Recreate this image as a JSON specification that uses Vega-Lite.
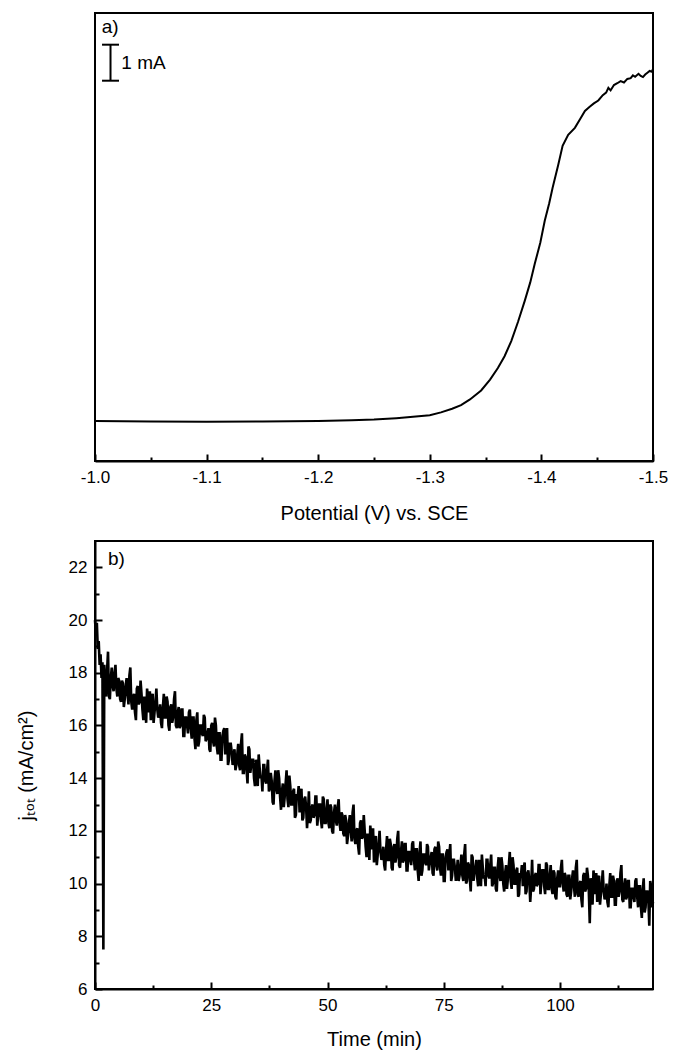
{
"$schema":"https://vega.github.io/schema/vega-lite/v6.json",
"background":"white",
"padding":{"left":15,"top":12,"right":4,"bottom":4},
"datasets":{
"lsv":[{"E":-1.0,"I":0},{"E":-1.05,"I":-0.01},{"E":-1.1,"I":-0.02},{"E":-1.15,"I":-0.01},{"E":-1.2,"I":0.0},{"E":-1.23,"I":0.02},{"E":-1.25,"I":0.04},{"E":-1.27,"I":0.08},{"E":-1.285,"I":0.12},{"E":-1.3,"I":0.16},{"E":-1.31,"I":0.24},{"E":-1.32,"I":0.34},{"E":-1.328,"I":0.44},{"E":-1.336,"I":0.6},{"E":-1.346,"I":0.85},{"E":-1.354,"I":1.15},{"E":-1.361,"I":1.47},{"E":-1.367,"I":1.8},{"E":-1.373,"I":2.22},{"E":-1.379,"I":2.75},{"E":-1.385,"I":3.33},{"E":-1.39,"I":3.85},{"E":-1.394,"I":4.36},{"E":-1.399,"I":4.95},{"E":-1.403,"I":5.56},{"E":-1.407,"I":6.05},{"E":-1.41,"I":6.47},{"E":-1.415,"I":7.1},{"E":-1.419,"I":7.64},{"E":-1.424,"I":7.95},{"E":-1.43,"I":8.14},{"E":-1.435,"I":8.4},{"E":-1.439,"I":8.61},{"E":-1.443,"I":8.72},{"E":-1.447,"I":8.82},{"E":-1.451,"I":8.9},{"E":-1.455,"I":9.05},{"E":-1.458,"I":9.12},{"E":-1.46,"I":9.25},{"E":-1.462,"I":9.18},{"E":-1.465,"I":9.33},{"E":-1.468,"I":9.38},{"E":-1.471,"I":9.44},{"E":-1.474,"I":9.4},{"E":-1.477,"I":9.5},{"E":-1.48,"I":9.52},{"E":-1.482,"I":9.6},{"E":-1.484,"I":9.56},{"E":-1.487,"I":9.64},{"E":-1.489,"I":9.58},{"E":-1.491,"I":9.55},{"E":-1.493,"I":9.62},{"E":-1.495,"I":9.67},{"E":-1.497,"I":9.72},{"E":-1.499,"I":9.7},{"E":-1.5,"I":9.78}],
"ca":[{"t":0,"j":20.0},{"t":0.2,"j":19.5},{"t":0.4,"j":19.9},{"t":0.6,"j":18.9},{"t":0.8,"j":19.2},{"t":1.0,"j":18.3},{"t":1.2,"j":18.7},{"t":1.4,"j":17.8},{"t":1.6,"j":18.4},{"t":1.8,"j":7.5},
{"t":2.0,"j":18.3},{"t":2.4,"j":17.1},{"t":2.8,"j":18.8},{"t":3.2,"j":17.0},{"t":3.6,"j":18.2},
{"t":4.0,"j":17.3},{"t":4.4,"j":18.3},{"t":4.8,"j":17.1},{"t":5.2,"j":17.7},{"t":5.6,"j":16.9},
{"t":6.0,"j":17.6},{"t":6.4,"j":17.0},{"t":6.8,"j":17.8},{"t":7.2,"j":16.8},{"t":7.6,"j":18.2},
{"t":8.0,"j":16.6},{"t":8.4,"j":17.2},{"t":8.8,"j":16.2},{"t":9.2,"j":17.5},{"t":9.6,"j":16.9},
{"t":10.0,"j":17.2},{"t":10.4,"j":16.2},{"t":10.8,"j":16.9},{"t":11.2,"j":17.4},{"t":11.6,"j":16.5},
{"t":12.0,"j":16.2},{"t":12.4,"j":17.2},{"t":12.8,"j":16.5},{"t":13.2,"j":17.4},{"t":13.6,"j":16.3},
{"t":14.0,"j":16.8},{"t":14.4,"j":15.9},{"t":14.8,"j":17.2},{"t":15.2,"j":16.3},{"t":15.6,"j":16.9},
{"t":16.0,"j":15.8},{"t":16.4,"j":16.8},{"t":16.8,"j":16.3},{"t":17.2,"j":17.3},{"t":17.6,"j":15.9},
{"t":18.0,"j":16.7},{"t":18.4,"j":16.0},{"t":18.8,"j":16.6},{"t":19.2,"j":15.6},{"t":19.6,"j":16.3},
{"t":20.0,"j":15.7},{"t":20.4,"j":16.6},{"t":20.8,"j":15.5},{"t":21.2,"j":16.3},{"t":21.6,"j":15.1},
{"t":22.0,"j":16.5},{"t":22.4,"j":15.4},{"t":22.8,"j":16.0},{"t":23.2,"j":15.6},{"t":23.6,"j":16.3},
{"t":24.0,"j":15.5},{"t":24.4,"j":15.9},{"t":24.8,"j":15.0},{"t":25.2,"j":16.1},{"t":25.6,"j":15.2},
{"t":26.0,"j":16.0},{"t":26.4,"j":14.9},{"t":26.8,"j":15.7},{"t":27.2,"j":14.7},{"t":27.6,"j":15.8},
{"t":28.0,"j":14.9},{"t":28.4,"j":15.9},{"t":28.8,"j":14.7},{"t":29.2,"j":15.3},{"t":29.6,"j":14.5},
{"t":30.0,"j":15.1},{"t":30.4,"j":14.5},{"t":30.8,"j":15.3},{"t":31.2,"j":14.3},{"t":31.6,"j":15.7},
{"t":32.0,"j":14.2},{"t":32.4,"j":14.8},{"t":32.8,"j":13.8},{"t":33.2,"j":15.1},{"t":33.6,"j":14.5},
{"t":34.0,"j":14.7},{"t":34.4,"j":13.7},{"t":34.8,"j":14.4},{"t":35.2,"j":14.9},{"t":35.6,"j":14.0},
{"t":36.0,"j":13.5},{"t":36.4,"j":14.5},{"t":36.8,"j":13.8},{"t":37.2,"j":14.7},{"t":37.6,"j":13.6},
{"t":38.0,"j":13.9},{"t":38.4,"j":13.0},{"t":38.8,"j":14.3},{"t":39.2,"j":13.4},{"t":39.6,"j":14.0},
{"t":40.0,"j":12.8},{"t":40.4,"j":13.8},{"t":40.8,"j":13.3},{"t":41.2,"j":14.3},{"t":41.6,"j":12.9},
{"t":42.0,"j":13.7},{"t":42.4,"j":13.0},{"t":42.8,"j":13.6},{"t":43.2,"j":12.6},{"t":43.6,"j":13.3},
{"t":44.0,"j":12.7},{"t":44.4,"j":13.6},{"t":44.8,"j":12.5},{"t":45.2,"j":13.3},{"t":45.6,"j":12.1},
{"t":46.0,"j":13.5},{"t":46.4,"j":12.4},{"t":46.8,"j":13.0},{"t":47.2,"j":12.6},{"t":47.6,"j":13.3},
{"t":48.0,"j":12.6},{"t":48.4,"j":13.0},{"t":48.8,"j":12.1},{"t":49.2,"j":13.2},{"t":49.6,"j":12.3},
{"t":50.0,"j":13.2},{"t":50.4,"j":12.1},{"t":50.8,"j":12.9},{"t":51.2,"j":11.9},{"t":51.6,"j":13.0},
{"t":52.0,"j":12.2},{"t":52.4,"j":13.2},{"t":52.8,"j":12.0},{"t":53.2,"j":12.6},{"t":53.6,"j":11.8},
{"t":54.0,"j":12.4},{"t":54.4,"j":11.8},{"t":54.8,"j":12.6},{"t":55.2,"j":11.6},{"t":55.6,"j":13.0},
{"t":56.0,"j":11.5},{"t":56.4,"j":12.1},{"t":56.8,"j":11.1},{"t":57.2,"j":12.4},{"t":57.6,"j":11.8},
{"t":58.0,"j":12.0},{"t":58.4,"j":11.0},{"t":58.8,"j":11.7},{"t":59.2,"j":12.2},{"t":59.6,"j":11.3},
{"t":60.0,"j":10.8},{"t":60.4,"j":11.8},{"t":60.8,"j":11.1},{"t":61.2,"j":12.0},{"t":61.6,"j":10.9},
{"t":62.0,"j":11.4},{"t":62.4,"j":10.5},{"t":62.8,"j":11.8},{"t":63.2,"j":10.9},{"t":63.6,"j":11.5},
{"t":64.0,"j":10.5},{"t":64.4,"j":11.5},{"t":64.8,"j":11.0},{"t":65.2,"j":12.0},{"t":65.6,"j":10.6},
{"t":66.0,"j":11.6},{"t":66.4,"j":10.9},{"t":66.8,"j":11.5},{"t":67.2,"j":10.5},{"t":67.6,"j":11.2},
{"t":68.0,"j":10.7},{"t":68.4,"j":11.6},{"t":68.8,"j":10.5},{"t":69.2,"j":11.3},{"t":69.6,"j":10.1},
{"t":70.0,"j":11.6},{"t":70.4,"j":10.5},{"t":70.8,"j":11.1},{"t":71.2,"j":10.7},{"t":71.6,"j":11.4},
{"t":72.0,"j":10.8},{"t":72.4,"j":11.2},{"t":72.8,"j":10.3},{"t":73.2,"j":11.4},{"t":73.6,"j":10.5},
{"t":74.0,"j":11.4},{"t":74.4,"j":10.3},{"t":74.8,"j":11.1},{"t":75.2,"j":10.1},{"t":75.6,"j":11.2},
{"t":76.0,"j":10.5},{"t":76.4,"j":11.5},{"t":76.8,"j":10.3},{"t":77.2,"j":10.9},{"t":77.6,"j":10.1},
{"t":78.0,"j":10.9},{"t":78.4,"j":10.3},{"t":78.8,"j":11.1},{"t":79.2,"j":10.1},{"t":79.6,"j":11.5},
{"t":80.0,"j":10.1},{"t":80.4,"j":10.7},{"t":80.8,"j":9.7},{"t":81.2,"j":11.0},{"t":81.6,"j":10.4},
{"t":82.0,"j":10.9},{"t":82.4,"j":9.9},{"t":82.8,"j":10.6},{"t":83.2,"j":11.1},{"t":83.6,"j":10.2},
{"t":84.0,"j":9.9},{"t":84.4,"j":10.9},{"t":84.8,"j":10.2},{"t":85.2,"j":11.1},{"t":85.6,"j":10.0},
{"t":86.0,"j":10.6},{"t":86.4,"j":9.7},{"t":86.8,"j":11.0},{"t":87.2,"j":10.1},{"t":87.6,"j":10.7},
{"t":88.0,"j":9.7},{"t":88.4,"j":10.7},{"t":88.8,"j":10.2},{"t":89.2,"j":11.2},{"t":89.6,"j":9.8},
{"t":90.0,"j":10.7},{"t":90.4,"j":10.0},{"t":90.8,"j":10.6},{"t":91.2,"j":9.6},{"t":91.6,"j":10.3},
{"t":92.0,"j":9.9},{"t":92.4,"j":10.8},{"t":92.8,"j":9.7},{"t":93.2,"j":10.5},{"t":93.6,"j":9.3},
{"t":94.0,"j":10.9},{"t":94.4,"j":9.8},{"t":94.8,"j":10.4},{"t":95.2,"j":10.0},{"t":95.6,"j":10.7},
{"t":96.0,"j":10.1},{"t":96.4,"j":10.5},{"t":96.8,"j":9.6},{"t":97.2,"j":10.7},{"t":97.6,"j":9.8},
{"t":98.0,"j":10.7},{"t":98.4,"j":9.6},{"t":98.8,"j":10.4},{"t":99.2,"j":9.4},{"t":99.6,"j":10.5},
{"t":100.0,"j":9.9},{"t":100.4,"j":10.9},{"t":100.8,"j":9.7},{"t":101.2,"j":10.3},{"t":101.6,"j":9.5},
{"t":102.0,"j":10.3},{"t":102.4,"j":9.7},{"t":102.8,"j":10.5},{"t":103.2,"j":9.5},{"t":103.6,"j":10.9},
{"t":104.0,"j":9.5},{"t":104.4,"j":10.1},{"t":104.8,"j":9.1},{"t":105.2,"j":10.4},{"t":105.6,"j":9.8},
{"t":106.0,"j":10.3},{"t":106.4,"j":8.5},{"t":106.8,"j":10.0},{"t":107.2,"j":10.5},{"t":107.6,"j":9.6},
{"t":108.0,"j":9.3},{"t":108.4,"j":10.3},{"t":108.8,"j":9.6},{"t":109.2,"j":10.5},{"t":109.6,"j":9.4},
{"t":110.0,"j":10.0},{"t":110.4,"j":9.1},{"t":110.8,"j":10.4},{"t":111.2,"j":9.5},{"t":111.6,"j":10.1},
{"t":112.0,"j":9.2},{"t":112.4,"j":10.2},{"t":112.8,"j":9.7},{"t":113.2,"j":10.7},{"t":113.6,"j":9.3},
{"t":114.0,"j":10.2},{"t":114.4,"j":9.5},{"t":114.8,"j":10.1},{"t":115.2,"j":9.1},{"t":115.6,"j":9.8},
{"t":116.0,"j":9.3},{"t":116.4,"j":10.2},{"t":116.8,"j":9.1},{"t":117.2,"j":9.9},{"t":117.6,"j":8.7},
{"t":118.0,"j":10.2},{"t":118.4,"j":9.1},{"t":118.8,"j":9.7},{"t":119.2,"j":8.4},{"t":119.6,"j":9.9},
{"t":120.0,"j":9.3},
{"t":2.2,"j":17.4},{"t":2.6,"j":18.1},{"t":3.0,"j":17.1},{"t":3.4,"j":17.8},{"t":3.8,"j":17.5},
{"t":4.2,"j":18.0},{"t":4.6,"j":17.4},{"t":5.0,"j":17.8},{"t":5.4,"j":17.0},{"t":5.8,"j":17.7},
{"t":6.2,"j":16.7},{"t":6.6,"j":17.5},{"t":7.0,"j":17.2},{"t":7.4,"j":17.9},{"t":7.8,"j":16.9},
{"t":8.2,"j":17.1},{"t":8.6,"j":16.5},{"t":9.0,"j":17.4},{"t":9.4,"j":16.8},{"t":9.8,"j":17.7},
{"t":10.2,"j":16.6},{"t":10.6,"j":17.1},{"t":11.0,"j":16.1},{"t":11.4,"j":17.0},{"t":11.8,"j":17.3},
{"t":12.2,"j":17.1},{"t":12.6,"j":16.1},{"t":13.0,"j":16.9},{"t":13.4,"j":16.6},{"t":13.8,"j":16.4},
{"t":14.2,"j":16.1},{"t":14.6,"j":16.7},{"t":15.0,"j":16.3},{"t":15.4,"j":17.1},{"t":15.8,"j":16.0},
{"t":16.2,"j":16.7},{"t":16.6,"j":16.1},{"t":17.0,"j":17.0},{"t":17.4,"j":16.0},{"t":17.8,"j":16.5},
{"t":18.2,"j":15.9},{"t":18.6,"j":16.6},{"t":19.0,"j":15.6},{"t":19.4,"j":16.3},{"t":19.8,"j":16.0},
{"t":20.2,"j":16.5},{"t":20.6,"j":15.9},{"t":21.0,"j":16.3},{"t":21.4,"j":15.5},{"t":21.8,"j":16.2},
{"t":22.2,"j":15.2},{"t":22.6,"j":16.0},{"t":23.0,"j":15.7},{"t":23.4,"j":16.4},{"t":23.8,"j":15.4},
{"t":24.2,"j":15.7},{"t":24.6,"j":15.1},{"t":25.0,"j":16.0},{"t":25.4,"j":15.4},{"t":25.8,"j":16.3},
{"t":26.2,"j":15.2},{"t":26.6,"j":15.7},{"t":27.0,"j":14.7},{"t":27.4,"j":15.6},{"t":27.8,"j":15.9},
{"t":28.2,"j":15.5},{"t":28.6,"j":14.5},{"t":29.0,"j":15.3},{"t":29.4,"j":15.0},{"t":29.8,"j":14.8},
{"t":30.2,"j":14.3},{"t":30.6,"j":14.9},{"t":31.0,"j":14.5},{"t":31.4,"j":15.3},{"t":31.8,"j":14.2},
{"t":32.2,"j":14.9},{"t":32.6,"j":14.3},{"t":33.0,"j":15.2},{"t":33.4,"j":14.2},{"t":33.8,"j":14.7},
{"t":34.2,"j":14.0},{"t":34.6,"j":14.7},{"t":35.0,"j":13.7},{"t":35.4,"j":14.4},{"t":35.8,"j":14.1},
{"t":36.2,"j":14.5},{"t":36.6,"j":13.9},{"t":37.0,"j":14.3},{"t":37.4,"j":13.5},{"t":37.8,"j":14.2},
{"t":38.2,"j":13.1},{"t":38.6,"j":13.9},{"t":39.0,"j":13.6},{"t":39.4,"j":14.3},{"t":39.8,"j":13.3},
{"t":40.2,"j":13.5},{"t":40.6,"j":12.9},{"t":41.0,"j":13.8},{"t":41.4,"j":13.2},{"t":41.8,"j":14.1},
{"t":42.2,"j":13.0},{"t":42.6,"j":13.5},{"t":43.0,"j":12.5},{"t":43.4,"j":13.4},{"t":43.8,"j":13.7},
{"t":44.2,"j":13.4},{"t":44.6,"j":12.4},{"t":45.0,"j":13.2},{"t":45.4,"j":12.9},{"t":45.8,"j":12.7},
{"t":46.2,"j":12.3},{"t":46.6,"j":12.9},{"t":47.0,"j":12.5},{"t":47.4,"j":13.3},{"t":47.8,"j":12.2},
{"t":48.2,"j":13.0},{"t":48.6,"j":12.4},{"t":49.0,"j":13.3},{"t":49.4,"j":12.3},{"t":49.8,"j":12.8},
{"t":50.2,"j":12.3},{"t":50.6,"j":13.0},{"t":51.0,"j":12.0},{"t":51.4,"j":12.7},{"t":51.8,"j":12.4},
{"t":52.2,"j":12.9},{"t":52.6,"j":12.3},{"t":53.0,"j":12.7},{"t":53.4,"j":11.9},{"t":53.8,"j":12.6},
{"t":54.2,"j":11.5},{"t":54.6,"j":12.3},{"t":55.0,"j":12.0},{"t":55.4,"j":12.7},{"t":55.8,"j":11.7},
{"t":56.2,"j":12.0},{"t":56.6,"j":11.4},{"t":57.0,"j":12.3},{"t":57.4,"j":11.7},{"t":57.8,"j":12.6},
{"t":58.2,"j":11.4},{"t":58.6,"j":11.9},{"t":59.0,"j":10.9},{"t":59.4,"j":11.8},{"t":59.8,"j":12.1},
{"t":60.2,"j":11.7},{"t":60.6,"j":10.7},{"t":61.0,"j":11.5},{"t":61.4,"j":11.2},{"t":61.8,"j":11.0},
{"t":62.2,"j":10.7},{"t":62.6,"j":11.3},{"t":63.0,"j":10.9},{"t":63.4,"j":11.7},{"t":63.8,"j":10.6},
{"t":64.2,"j":11.4},{"t":64.6,"j":10.8},{"t":65.0,"j":11.7},{"t":65.4,"j":10.7},{"t":65.8,"j":11.2},
{"t":66.2,"j":10.8},{"t":66.6,"j":11.5},{"t":67.0,"j":10.5},{"t":67.4,"j":11.2},{"t":67.8,"j":10.9},
{"t":68.2,"j":11.5},{"t":68.6,"j":10.9},{"t":69.0,"j":11.3},{"t":69.4,"j":10.5},{"t":69.8,"j":11.2},
{"t":70.2,"j":10.3},{"t":70.6,"j":11.1},{"t":71.0,"j":10.8},{"t":71.4,"j":11.5},{"t":71.8,"j":10.5},
{"t":72.2,"j":11.0},{"t":72.6,"j":10.4},{"t":73.0,"j":11.3},{"t":73.4,"j":10.7},{"t":73.8,"j":11.6},
{"t":74.2,"j":10.6},{"t":74.6,"j":11.1},{"t":75.0,"j":10.1},{"t":75.4,"j":11.0},{"t":75.8,"j":11.3},
{"t":76.2,"j":11.1},{"t":76.6,"j":10.1},{"t":77.0,"j":10.9},{"t":77.4,"j":10.6},{"t":77.8,"j":10.4},
{"t":78.2,"j":10.1},{"t":78.6,"j":10.7},{"t":79.0,"j":10.3},{"t":79.4,"j":11.1},{"t":79.8,"j":10.0},
{"t":80.2,"j":10.8},{"t":80.6,"j":10.2},{"t":81.0,"j":11.1},{"t":81.4,"j":10.1},{"t":81.8,"j":10.6},
{"t":82.2,"j":10.2},{"t":82.6,"j":10.9},{"t":83.0,"j":9.9},{"t":83.4,"j":10.6},{"t":83.8,"j":10.3},
{"t":84.2,"j":10.9},{"t":84.6,"j":10.3},{"t":85.0,"j":10.7},{"t":85.4,"j":9.9},{"t":85.8,"j":10.6},
{"t":86.2,"j":9.8},{"t":86.6,"j":10.6},{"t":87.0,"j":10.3},{"t":87.4,"j":11.0},{"t":87.8,"j":10.0},
{"t":88.2,"j":10.4},{"t":88.6,"j":9.8},{"t":89.0,"j":10.7},{"t":89.4,"j":10.1},{"t":89.8,"j":11.0},
{"t":90.2,"j":10.0},{"t":90.6,"j":10.5},{"t":91.0,"j":9.5},{"t":91.4,"j":10.4},{"t":91.8,"j":10.7},
{"t":92.2,"j":10.6},{"t":92.6,"j":9.6},{"t":93.0,"j":10.4},{"t":93.4,"j":10.1},{"t":93.8,"j":9.9},
{"t":94.2,"j":9.7},{"t":94.6,"j":10.3},{"t":95.0,"j":9.9},{"t":95.4,"j":10.7},{"t":95.8,"j":9.6},
{"t":96.2,"j":10.5},{"t":96.6,"j":9.9},{"t":97.0,"j":10.8},{"t":97.4,"j":9.8},{"t":97.8,"j":10.3},
{"t":98.2,"j":9.8},{"t":98.6,"j":10.5},{"t":99.0,"j":9.5},{"t":99.4,"j":10.2},{"t":99.8,"j":9.9},
{"t":100.2,"j":10.6},{"t":100.6,"j":10.0},{"t":101.0,"j":10.4},{"t":101.4,"j":9.6},{"t":101.8,"j":10.3},
{"t":102.2,"j":9.4},{"t":102.6,"j":10.2},{"t":103.0,"j":9.9},{"t":103.4,"j":10.6},{"t":103.8,"j":9.6},
{"t":104.2,"j":10.0},{"t":104.6,"j":9.4},{"t":105.0,"j":10.3},{"t":105.4,"j":9.7},{"t":105.8,"j":10.6},
{"t":106.2,"j":9.7},{"t":106.6,"j":10.2},{"t":107.0,"j":9.2},{"t":107.4,"j":10.1},{"t":107.8,"j":10.4},
{"t":108.2,"j":10.2},{"t":108.6,"j":9.2},{"t":109.0,"j":10.0},{"t":109.4,"j":9.7},{"t":109.8,"j":9.5},
{"t":110.2,"j":9.3},{"t":110.6,"j":9.9},{"t":111.0,"j":9.5},{"t":111.4,"j":10.3},{"t":111.8,"j":9.2},
{"t":112.2,"j":10.1},{"t":112.6,"j":9.5},{"t":113.0,"j":10.4},{"t":113.4,"j":9.4},{"t":113.8,"j":9.9},
{"t":114.2,"j":9.4},{"t":114.6,"j":10.1},{"t":115.0,"j":9.1},{"t":115.4,"j":9.8},{"t":115.8,"j":9.5},
{"t":116.2,"j":10.1},{"t":116.6,"j":9.5},{"t":117.0,"j":9.9},{"t":117.4,"j":9.1},{"t":117.8,"j":9.8},
{"t":118.2,"j":8.9},{"t":118.6,"j":9.7},{"t":119.0,"j":9.4},{"t":119.4,"j":10.1},{"t":119.8,"j":9.1}]
},
"config":{
"font":"Liberation Sans",
"view":{"stroke":"black","strokeWidth":2},
"axis":{"domainColor":"black","domainWidth":2,"tickColor":"black","tickWidth":2,"tickSize":-7,"labelColor":"black","labelFont":"Liberation Sans","labelFontSize":17,"labelPadding":15,"labelFlush":false,"titleFont":"Liberation Sans","titleFontSize":20,"titleFontWeight":"normal","titleColor":"black","grid":false},
"concat":{"spacing":16}
},
"vconcat":[
{
"width":558,"height":448,
"resolve":{"axis":{"x":"independent"}},
"layer":[
{"data":{"name":"lsv"},"mark":{"type":"line","color":"black","strokeWidth":2},
"encoding":{
"x":{"field":"E","type":"quantitative","scale":{"domain":[-1.0,-1.5],"nice":false,"zero":false},"axis":{"orient":"bottom","values":[-1.0,-1.1,-1.2,-1.3,-1.4,-1.5],"labelExpr":"'-' + format(abs(datum.value), '.1f')","title":"Potential (V) vs. SCE","titlePadding":18}},
"y":{"field":"I","type":"quantitative","scale":{"domain":[-1.11,11.33],"nice":false,"zero":false},"axis":null}}},
{"data":{"name":"lsv"},"mark":{"type":"line","strokeOpacity":0},
"encoding":{
"x":{"field":"E","type":"quantitative","axis":{"orient":"bottom","values":[-1.05,-1.15,-1.25,-1.35,-1.45],"labels":false,"domain":false,"tickSize":-4,"title":null}},
"y":{"field":"I","type":"quantitative","axis":null}}},
{"data":{"values":[{}]},"mark":{"type":"rule","color":"black","strokeWidth":2},
"encoding":{"x":{"datum":-1.0139,"type":"quantitative","axis":null},"y":{"datum":9.45,"type":"quantitative","axis":null},"y2":{"datum":10.45}}},
{"data":{"values":[{}]},"mark":{"type":"rule","color":"black","strokeWidth":2},
"encoding":{"x":{"datum":-1.0063,"type":"quantitative","axis":null},"x2":{"datum":-1.0215},"y":{"datum":9.45,"type":"quantitative","axis":null}}},
{"data":{"values":[{}]},"mark":{"type":"rule","color":"black","strokeWidth":2},
"encoding":{"x":{"datum":-1.0063,"type":"quantitative","axis":null},"x2":{"datum":-1.0215},"y":{"datum":10.45,"type":"quantitative","axis":null}}},
{"data":{"values":[{}]},"mark":{"type":"text","text":"1 mA","align":"left","baseline":"middle","fontSize":19,"font":"Liberation Sans","color":"black"},
"encoding":{"x":{"datum":-1.0236,"type":"quantitative","axis":null},"y":{"datum":9.95,"type":"quantitative","axis":null}}},
{"data":{"values":[{}]},"mark":{"type":"text","text":"a)","align":"left","baseline":"middle","fontSize":19,"font":"Liberation Sans","color":"black"},
"encoding":{"x":{"datum":-1.006,"type":"quantitative","axis":null},"y":{"datum":10.95,"type":"quantitative","axis":null}}}
]
},
{
"width":558,"height":448,
"resolve":{"axis":{"x":"independent","y":"independent"}},
"layer":[
{"data":{"name":"ca"},"mark":{"type":"line","color":"black","strokeWidth":2.6,"strokeJoin":"miter"},
"encoding":{
"x":{"field":"t","type":"quantitative","scale":{"domain":[0,120],"nice":false,"zero":false},"axis":{"orient":"bottom","values":[0,25,50,75,100],"title":"Time (min)","titlePadding":16}},
"y":{"field":"j","type":"quantitative","scale":{"domain":[6,23],"nice":false,"zero":false},"axis":{"orient":"left","values":[6,8,10,12,14,16,18,20,22],"title":"jₜₒₜ (mA/cm²)","titlePadding":32}}}},
{"data":{"name":"ca"},"mark":{"type":"line","strokeOpacity":0},
"encoding":{
"x":{"field":"t","type":"quantitative","axis":{"orient":"bottom","values":[12.5,37.5,62.5,87.5,112.5],"labels":false,"domain":false,"tickSize":-4,"title":null}},
"y":{"field":"j","type":"quantitative","axis":{"orient":"left","values":[7,9,11,13,15,17,19,21],"labels":false,"domain":false,"tickSize":-4,"title":null}}}},
{"data":{"values":[{}]},"mark":{"type":"text","text":"b)","align":"left","baseline":"middle","fontSize":19,"font":"Liberation Sans","color":"black"},
"encoding":{"x":{"datum":2.8,"type":"quantitative","axis":null},"y":{"datum":22.3,"type":"quantitative","axis":null}}}
]
}
]
}
